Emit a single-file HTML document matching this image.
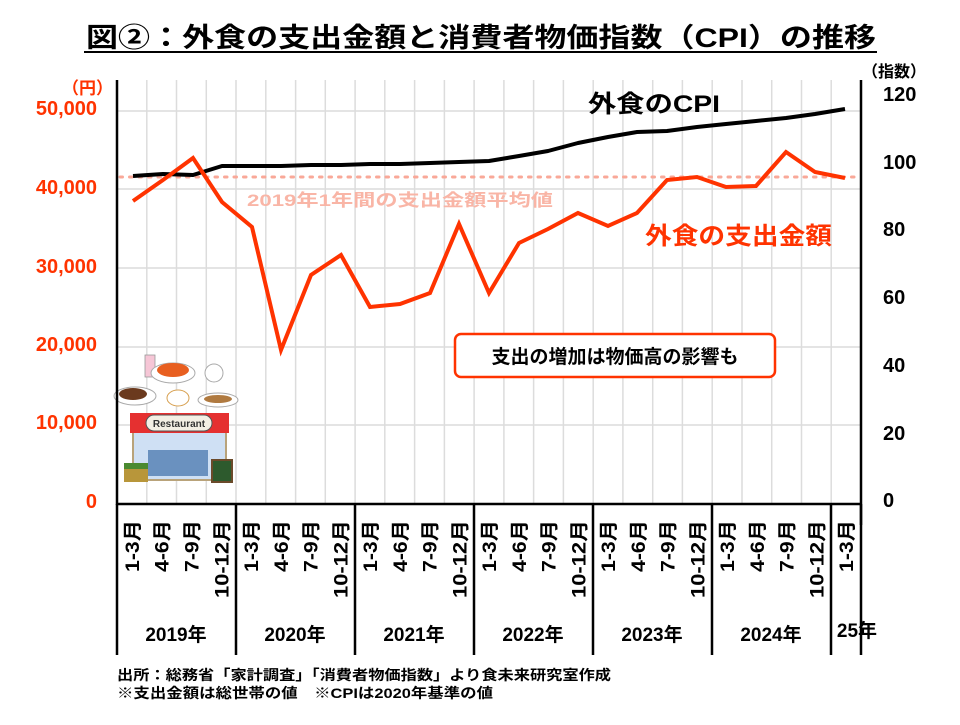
<!DOCTYPE html>
<html><head><meta charset="utf-8"><style>
body{margin:0;background:#fff}
svg text{font-family:"Liberation Sans","Noto Sans CJK JP",sans-serif;font-weight:bold}
</style></head><body>
<svg width="960" height="720" viewBox="0 0 960 720" xmlns="http://www.w3.org/2000/svg">
<rect width="960" height="720" fill="#fff"/>
<text x="86" y="47" font-size="27" textLength="790" lengthAdjust="spacingAndGlyphs" fill="#000">図②：外食の支出金額と消費者物価指数（CPI）の推移</text>
<line x1="84" y1="52" x2="877" y2="52" stroke="#000" stroke-width="2"/>
<g stroke="#dcdcdc" stroke-width="1.5">
<line x1="117" y1="111" x2="861" y2="111"/><line x1="117" y1="189" x2="861" y2="189"/>
<line x1="117" y1="268" x2="861" y2="268"/><line x1="117" y1="347" x2="861" y2="347"/>
<line x1="117" y1="425" x2="861" y2="425"/>
<line x1="146.8" y1="80" x2="146.8" y2="504"/><line x1="176.5" y1="80" x2="176.5" y2="504"/>
<line x1="206.3" y1="80" x2="206.3" y2="504"/><line x1="236" y1="80" x2="236" y2="504"/>
<line x1="265.8" y1="80" x2="265.8" y2="504"/><line x1="295.6" y1="80" x2="295.6" y2="504"/>
<line x1="325.3" y1="80" x2="325.3" y2="504"/><line x1="355.1" y1="80" x2="355.1" y2="504"/>
<line x1="384.8" y1="80" x2="384.8" y2="504"/><line x1="414.6" y1="80" x2="414.6" y2="504"/>
<line x1="444.4" y1="80" x2="444.4" y2="504"/><line x1="474.1" y1="80" x2="474.1" y2="504"/>
<line x1="503.9" y1="80" x2="503.9" y2="504"/><line x1="533.6" y1="80" x2="533.6" y2="504"/>
<line x1="563.4" y1="80" x2="563.4" y2="504"/><line x1="593.2" y1="80" x2="593.2" y2="504"/>
<line x1="622.9" y1="80" x2="622.9" y2="504"/><line x1="652.7" y1="80" x2="652.7" y2="504"/>
<line x1="682.4" y1="80" x2="682.4" y2="504"/><line x1="712.2" y1="80" x2="712.2" y2="504"/>
<line x1="742" y1="80" x2="742" y2="504"/><line x1="771.7" y1="80" x2="771.7" y2="504"/>
<line x1="801.5" y1="80" x2="801.5" y2="504"/><line x1="831.2" y1="80" x2="831.2" y2="504"/>
</g>
<g>
<rect x="145" y="355" width="10" height="22" fill="#f6c6d6" stroke="#999" stroke-width="0.8"/>
<ellipse cx="173" cy="373" rx="22" ry="10" fill="#fff" stroke="#aaa"/>
<ellipse cx="173" cy="370" rx="16" ry="7" fill="#e85f20"/>
<ellipse cx="214" cy="373" rx="9" ry="9" fill="#fff" stroke="#aaa"/>
<ellipse cx="135" cy="396" rx="21" ry="9" fill="#fff" stroke="#aaa"/>
<ellipse cx="133" cy="394" rx="14" ry="6" fill="#6b3a1e"/>
<ellipse cx="178" cy="398" rx="11" ry="8" fill="#fff" stroke="#d7a050"/>
<ellipse cx="218" cy="400" rx="20" ry="7" fill="#fff" stroke="#aaa"/>
<ellipse cx="218" cy="399" rx="14" ry="4" fill="#b07a40"/>
<rect x="133" y="425" width="93" height="55" fill="#cfe0f4" stroke="#b9a37a" stroke-width="2"/>
<rect x="130" y="413" width="99" height="20" fill="#e53030"/>
<rect x="146" y="415" width="66" height="16" rx="8" fill="#f3efe4" stroke="#555"/>
<text x="179" y="427" font-size="10" text-anchor="middle" fill="#333">Restaurant</text>
<rect x="148" y="450" width="60" height="26" fill="#3f6fa8" opacity="0.7"/>
<rect x="124" y="467" width="24" height="15" fill="#b8963a"/>
<rect x="124" y="463" width="24" height="6" fill="#4a8a30"/>
<rect x="212" y="460" width="20" height="22" fill="#2d5a2d" stroke="#6b4a2a" stroke-width="2"/>
</g>
<line x1="120" y1="177" x2="858" y2="177" stroke="#f9a898" stroke-width="3" stroke-dasharray="2.5 7" stroke-linecap="round"/>
<text x="247" y="206" font-size="17" textLength="306" lengthAdjust="spacingAndGlyphs" fill="#f9b5a6">2019年1年間の支出金額平均値</text>
<line x1="117" y1="80" x2="117" y2="505" stroke="#000" stroke-width="2.5"/>
<line x1="861" y1="80" x2="861" y2="525" stroke="#000" stroke-width="2.5"/>
<line x1="116" y1="504" x2="862" y2="504" stroke="#000" stroke-width="2.5"/>
<g stroke="#000" stroke-width="2.5">
<line x1="117" y1="504" x2="117" y2="655"/><line x1="236" y1="504" x2="236" y2="655"/>
<line x1="355" y1="504" x2="355" y2="655"/><line x1="474" y1="504" x2="474" y2="655"/>
<line x1="593" y1="504" x2="593" y2="655"/><line x1="712" y1="504" x2="712" y2="655"/>
<line x1="831" y1="504" x2="831" y2="655"/><line x1="861" y1="504" x2="861" y2="655"/>
</g>
<polyline fill="none" stroke="#000" stroke-width="4" stroke-linejoin="round" points="133,176 163,174 193,175 222,166 252,166 281,166 311,165 341,165 370,164 400,164 430,163 459,162 489,161 519,156 548,151 578,143 608,137 637,132 667,131 697,127 726,124 756,121 786,118 815,114 845,109"/>
<polyline fill="none" stroke="#ff3300" stroke-width="4" points="133,201 163,180 193,158 222,202 252,227 281,350 311,275 341,255 370,307 400,304 430,293 459,224 489,293 519,243 548,229 578,213 608,226 637,213 667,180 697,177 726,187 756,186 786,152 815,172 845,178"/>
<text x="588" y="112" font-size="24" textLength="132" lengthAdjust="spacingAndGlyphs" fill="#000">外食のCPI</text>
<text x="645" y="244" font-size="24" textLength="187" lengthAdjust="spacingAndGlyphs" fill="#ff3300">外食の支出金額</text>
<rect x="455" y="334" width="320" height="43" rx="6" fill="#fff" stroke="#ff3300" stroke-width="2.5"/>
<text x="615" y="363" font-size="19" text-anchor="middle" fill="#000">支出の増加は物価高の影響も</text>
<g font-size="20" fill="#ff3300" text-anchor="end">
<text x="97" y="115">50,000</text><text x="97" y="194">40,000</text><text x="97" y="273">30,000</text>
<text x="97" y="351">20,000</text><text x="97" y="429">10,000</text><text x="97" y="508">0</text>
</g>
<text x="62" y="94" font-size="17" fill="#ff3300">（円）</text>
<text x="862" y="77" font-size="16" fill="#000">（指数）</text>
<g font-size="20" fill="#000">
<text x="883" y="101">120</text><text x="883" y="169">100</text><text x="883" y="236">80</text>
<text x="883" y="304">60</text><text x="883" y="372">40</text><text x="883" y="440">20</text>
<text x="883" y="507">0</text>
</g>
<g font-size="19" fill="#000" text-anchor="end">
<text transform="translate(139,520) rotate(-90)" textLength="52" lengthAdjust="spacingAndGlyphs">1-3月</text>
<text transform="translate(168.7,520) rotate(-90)" textLength="52" lengthAdjust="spacingAndGlyphs">4-6月</text>
<text transform="translate(198.5,520) rotate(-90)" textLength="52" lengthAdjust="spacingAndGlyphs">7-9月</text>
<text transform="translate(228.3,520) rotate(-90)" textLength="78" lengthAdjust="spacingAndGlyphs">10-12月</text>
<text transform="translate(258,520) rotate(-90)" textLength="52" lengthAdjust="spacingAndGlyphs">1-3月</text>
<text transform="translate(287.8,520) rotate(-90)" textLength="52" lengthAdjust="spacingAndGlyphs">4-6月</text>
<text transform="translate(317.5,520) rotate(-90)" textLength="52" lengthAdjust="spacingAndGlyphs">7-9月</text>
<text transform="translate(347.3,520) rotate(-90)" textLength="78" lengthAdjust="spacingAndGlyphs">10-12月</text>
<text transform="translate(377.1,520) rotate(-90)" textLength="52" lengthAdjust="spacingAndGlyphs">1-3月</text>
<text transform="translate(406.8,520) rotate(-90)" textLength="52" lengthAdjust="spacingAndGlyphs">4-6月</text>
<text transform="translate(436.6,520) rotate(-90)" textLength="52" lengthAdjust="spacingAndGlyphs">7-9月</text>
<text transform="translate(466.3,520) rotate(-90)" textLength="78" lengthAdjust="spacingAndGlyphs">10-12月</text>
<text transform="translate(496.1,520) rotate(-90)" textLength="52" lengthAdjust="spacingAndGlyphs">1-3月</text>
<text transform="translate(525.9,520) rotate(-90)" textLength="52" lengthAdjust="spacingAndGlyphs">4-6月</text>
<text transform="translate(555.6,520) rotate(-90)" textLength="52" lengthAdjust="spacingAndGlyphs">7-9月</text>
<text transform="translate(585.4,520) rotate(-90)" textLength="78" lengthAdjust="spacingAndGlyphs">10-12月</text>
<text transform="translate(615.1,520) rotate(-90)" textLength="52" lengthAdjust="spacingAndGlyphs">1-3月</text>
<text transform="translate(644.9,520) rotate(-90)" textLength="52" lengthAdjust="spacingAndGlyphs">4-6月</text>
<text transform="translate(674.7,520) rotate(-90)" textLength="52" lengthAdjust="spacingAndGlyphs">7-9月</text>
<text transform="translate(704.4,520) rotate(-90)" textLength="78" lengthAdjust="spacingAndGlyphs">10-12月</text>
<text transform="translate(734.2,520) rotate(-90)" textLength="52" lengthAdjust="spacingAndGlyphs">1-3月</text>
<text transform="translate(763.9,520) rotate(-90)" textLength="52" lengthAdjust="spacingAndGlyphs">4-6月</text>
<text transform="translate(793.7,520) rotate(-90)" textLength="52" lengthAdjust="spacingAndGlyphs">7-9月</text>
<text transform="translate(823.5,520) rotate(-90)" textLength="78" lengthAdjust="spacingAndGlyphs">10-12月</text>
<text transform="translate(853.2,520) rotate(-90)" textLength="52" lengthAdjust="spacingAndGlyphs">1-3月</text>
</g>
<g font-size="19" fill="#000" text-anchor="middle">
<text x="176" y="641">2019年</text><text x="295" y="641">2020年</text><text x="414" y="641">2021年</text>
<text x="533" y="641">2022年</text><text x="652" y="641">2023年</text><text x="771" y="641">2024年</text>
<text x="857" y="637">25年</text>
</g>
<text x="117" y="680" font-size="14" textLength="494" lengthAdjust="spacingAndGlyphs" fill="#000">出所：総務省「家計調査」「消費者物価指数」より食未来研究室作成</text>
<text x="117" y="698" font-size="14" textLength="376" lengthAdjust="spacingAndGlyphs" fill="#000">※支出金額は総世帯の値　※CPIは2020年基準の値</text>
</svg>
</body></html>
